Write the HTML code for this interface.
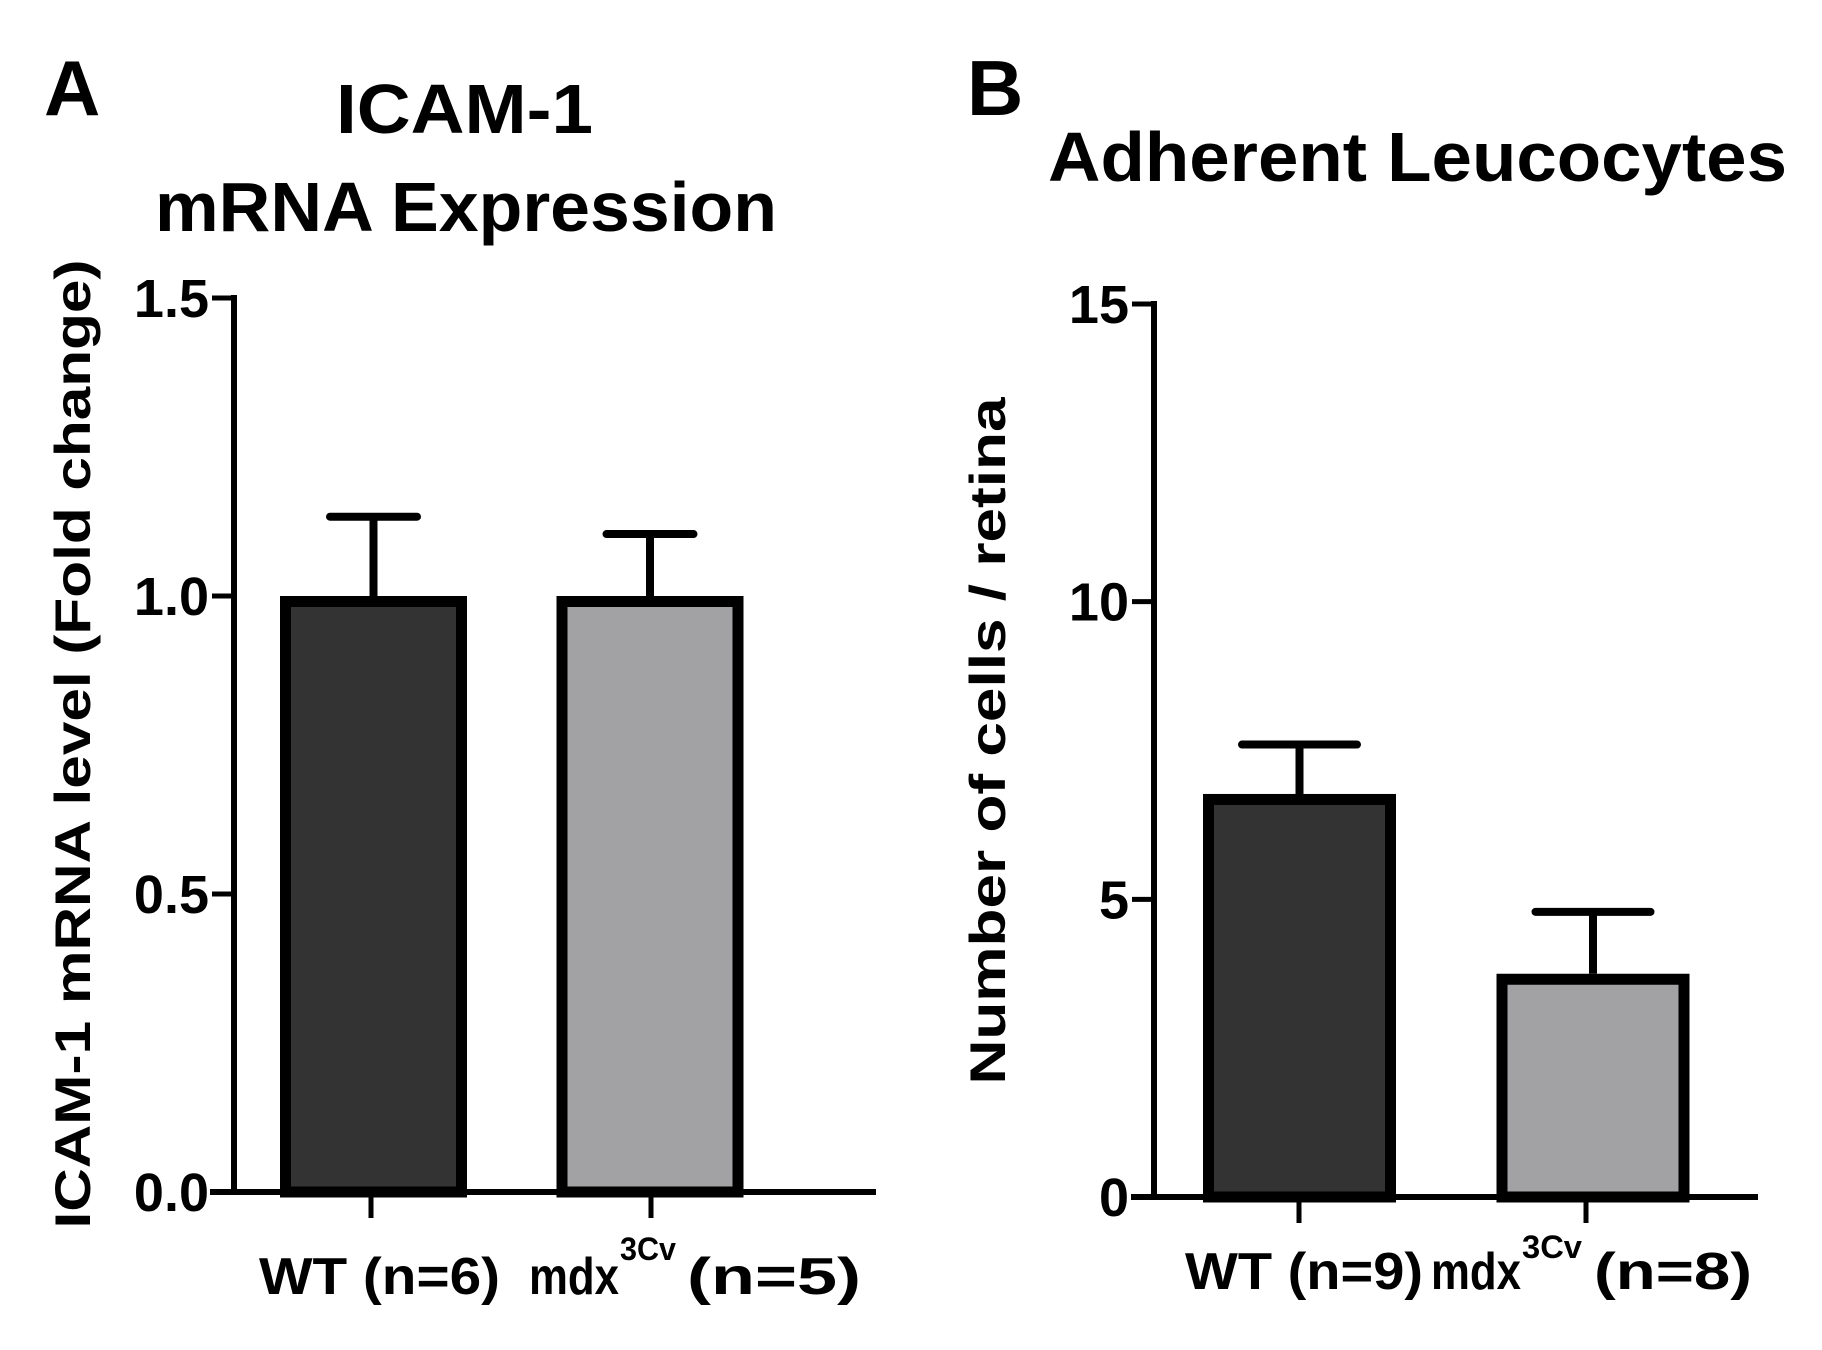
<!DOCTYPE html>
<html><head><meta charset="utf-8"><style>
html,body{margin:0;padding:0;background:#fff;}
svg{display:block;}
text{font-family:"Liberation Sans",sans-serif;font-weight:bold;fill:#000;}
</style></head><body>
<svg id="fig" width="1822" height="1350" viewBox="0 0 1822 1350" xmlns="http://www.w3.org/2000/svg">
<text x="44" y="115" font-size="78">A</text>
<text x="336" y="133" font-size="70" textLength="257" lengthAdjust="spacingAndGlyphs">ICAM-1</text>
<text x="155" y="231" font-size="70" textLength="622" lengthAdjust="spacingAndGlyphs">mRNA Expression</text>
<text x="967" y="115" font-size="78">B</text>
<text x="1048" y="181" font-size="70" textLength="739" lengthAdjust="spacingAndGlyphs">Adherent Leucocytes</text>
<text transform="translate(90,744) rotate(-90)" text-anchor="middle" font-size="50" textLength="969" lengthAdjust="spacingAndGlyphs">ICAM-1 mRNA level (Fold change)</text>
<text transform="translate(1005,741) rotate(-90)" text-anchor="middle" font-size="50" textLength="687" lengthAdjust="spacingAndGlyphs">Number of cells / retina</text>
<g id="ga"></g>
<g id="gb"></g>
<text x="259" y="1294" font-size="52" textLength="241" lengthAdjust="spacingAndGlyphs">WT (n=6)</text>
<text x="529" y="1294" font-size="52" textLength="90" lengthAdjust="spacingAndGlyphs">mdx</text>
<text x="620" y="1260" font-size="32" textLength="56" lengthAdjust="spacingAndGlyphs">3Cv</text>
<text x="687" y="1294" font-size="52" textLength="174" lengthAdjust="spacingAndGlyphs">(n=5)</text>
<text x="1185" y="1289" font-size="52" textLength="238" lengthAdjust="spacingAndGlyphs">WT (n=9)</text>
<text x="1431" y="1289" font-size="52" textLength="90" lengthAdjust="spacingAndGlyphs">mdx</text>
<text x="1522" y="1258" font-size="32" textLength="60" lengthAdjust="spacingAndGlyphs">3Cv</text>
<text x="1594" y="1289" font-size="52" textLength="158" lengthAdjust="spacingAndGlyphs">(n=8)</text>
</svg>
<script>
const aMeans = [1.0, 1.0];
const aErrs = [0.133, 0.104];
const aTicks = [0, 0.5, 1.0, 1.5];
const aTickLabels = ["0.0", "0.5", "1.0", "1.5"];
const bMeans = [6.77, 3.75];
const bErrs = [0.83, 1.04];
const bTicks = [0, 5, 10, 15];
const bTickLabels = ["0", "5", "10", "15"];
const fills = ["#333333", "#a2a2a4"];
const NS = "http://www.w3.org/2000/svg";
function mk(parent, tag, attrs) {
  const e = document.createElementNS(NS, tag);
  for (const k in attrs) e.setAttribute(k, attrs[k]);
  parent.appendChild(e);
  return e;
}
function panel(gid, cfg, means, errs, ticks, labels, prefix) {
  const g = document.getElementById(gid);
  const y = v => cfg.y0 - (v - cfg.min) / (cfg.max - cfg.min) * (cfg.y0 - cfg.yTop);
  let ax = mk(g, "line", {x1: cfg.ax, y1: y(cfg.max) - 3, x2: cfg.ax, y2: cfg.y0 + 3, stroke: "#000", "stroke-width": 6});
  
  
  let xa = mk(g, "line", {x1: cfg.xStart, y1: cfg.y0, x2: cfg.xEnd, y2: cfg.y0, stroke: "#000", "stroke-width": 6});
  
  
  ticks.forEach((t, i) => {
    const tk = mk(g, "line", {x1: cfg.ax - 22, y1: y(t), x2: cfg.ax, y2: y(t), stroke: "#000", "stroke-width": 5});
    
    
    const tl = mk(g, "text", {x: cfg.ax - 25, y: y(t) + 19, "text-anchor": "end", "font-size": 54});
    tl.textContent = labels[i];
    
    
  });
  means.forEach((m, i) => {
    const c = cfg.centers[i], hw = cfg.barW / 2, sw = 11;
    const top = y(m + errs[i]);
    const eb = mk(g, "line", {x1: c, y1: top, x2: c, y2: y(m), stroke: "#000", "stroke-width": 8});
    
    
    const cap = mk(g, "line", {x1: c - cfg.capW / 2, y1: top, x2: c + cfg.capW / 2, y2: top, stroke: "#000", "stroke-width": 8, "stroke-linecap": "round"});
    
    
    const r = mk(g, "rect", {x: c - hw + sw / 2, y: y(m) + sw / 2, width: cfg.barW - sw, height: y(0) - y(m) - sw / 2, fill: fills[i], stroke: "#000", "stroke-width": sw});
    
    
    const xt = mk(g, "line", {x1: cfg.ticks[i], y1: cfg.y0, x2: cfg.ticks[i], y2: cfg.y0 + 26, stroke: "#000", "stroke-width": 5});
    
    
  });
}
panel("ga", {y0: 1192, yTop: 298, min: 0, max: 1.5, ax: 234, xStart: 210, xEnd: 876,
  centers: [373.5, 650], barW: 187, capW: 87, ticks: [371, 651]}, aMeans, aErrs, aTicks, aTickLabels, "panel-a");
panel("gb", {y0: 1197, yTop: 304, min: 0, max: 15, ax: 1154, xStart: 1131, xEnd: 1758,
  centers: [1299.5, 1593], barW: 193, capW: 115, ticks: [1299, 1586]}, bMeans, bErrs, bTicks, bTickLabels, "panel-b");
</script>
</body></html>
